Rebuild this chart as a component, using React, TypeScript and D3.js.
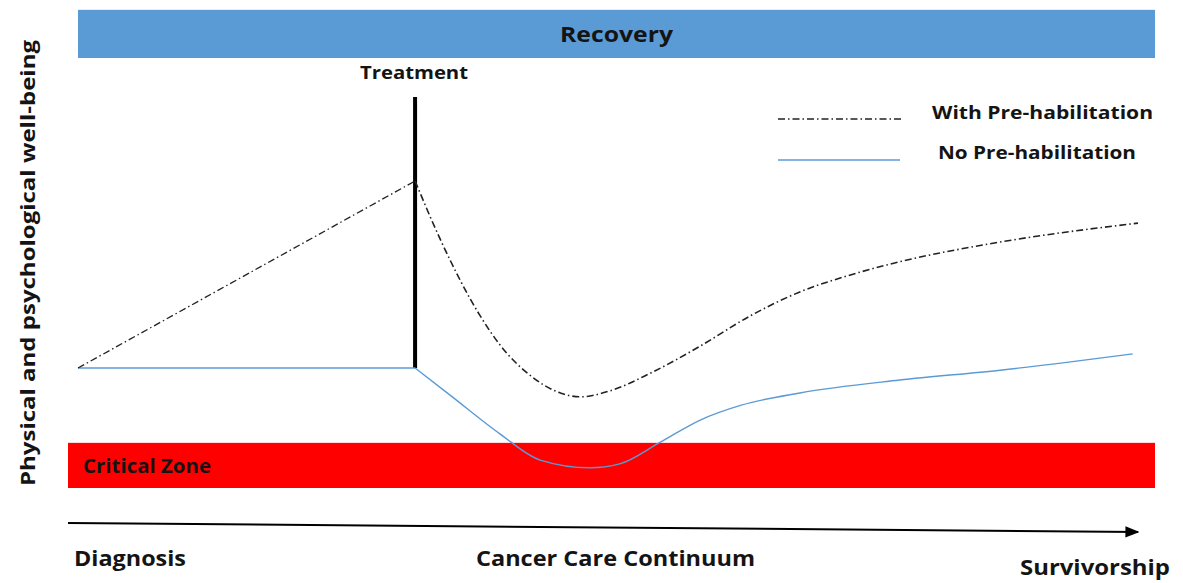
import React from 'react';
import * as d3 from 'd3';

// Conceptual chart: well-being along the cancer care continuum (0-100 on both axes)
const rampX = [0, 31.8];
const prehabRampY = [27.9, 71.4];
const noPrehabRampY = [27.9, 27.9];

const prehabX = [31.8, 34.2, 37.9, 39.8, 42.6, 45.5, 47.4, 50.2, 54, 58.7, 63.4, 68.1, 72.8, 77.5, 87, 100];
const prehabY = [71.4, 57.7, 40.2, 33.3, 26.3, 22.1, 21.2, 22.6, 26.7, 33.0, 40.0, 45.6, 49.5, 52.6, 57.2, 61.6];

const noPrehabX = [31.8, 35.1, 39.8, 43.6, 48.3, 51.1, 54.9, 58.7, 62.5, 68.1, 77.5, 87, 99.5];
const noPrehabY = [27.9, 21.6, 12.6, 6.5, 4.7, 5.6, 10.6, 15.8, 19.2, 22.1, 25.1, 27.4, 31.2];

const treatmentX = 31.8;
const criticalZone = [0, 10.5];
const recoveryBand = [100, 111.2];
const legendLabels = ['With Pre-habilitation', 'No Pre-habilitation'];
const stageLabels = ['Diagnosis', 'Cancer Care Continuum', 'Survivorship'];

const W = 1183;
const H = 583;
const font = '"Open Sans", Lato, sans-serif';
const blue = '#5b9bd5';
const ink = '#141414';
const dashDot = '7,3,1.5,3';

export default function App() {
  const x = d3.scaleLinear().domain([0, 100]).range([78, 1138]);
  const y = d3.scaleLinear().domain([0, 100]).range([488, 58]);

  const line = d3.line<[number, number]>().x(d => x(d[0])).y(d => y(d[1]));
  const curve = d3.line<[number, number]>().x(d => x(d[0])).y(d => y(d[1])).curve(d3.curveMonotoneX);

  const zip = (a: number[], b: number[]) => a.map((v, i) => [v, b[i]] as [number, number]);

  return (
    <div>
      <style>{`body{margin:0}`}</style>
      <svg width={W} height={H} style={{ display: 'block', background: '#fff', fontFamily: font }}>
        <defs>
          <marker id="arrow" viewBox="0 0 10 10" refX="9" refY="5" markerWidth="7" markerHeight="7" orient="auto">
            <path d="M0,1 L10,5 L0,9 z" fill="#000" />
          </marker>
        </defs>

        {/* recovery band */}
        <rect x={x(0)} y={y(recoveryBand[1])} width={1155 - x(0)} height={y(recoveryBand[0]) - y(recoveryBand[1])} fill={blue} />
        <text x={560} y={42} fontSize={21} fontWeight="bold" fill={ink}
          textLength={113} lengthAdjust="spacingAndGlyphs">Recovery</text>

        {/* critical zone */}
        <rect x={68} y={y(criticalZone[1])} width={1155 - 68} height={y(criticalZone[0]) - y(criticalZone[1])} fill="#ff0000" />
        <text x={83} y={473} fontSize={19} fontWeight="bold" fill={ink}
          textLength={128} lengthAdjust="spacingAndGlyphs">Critical Zone</text>

        {/* treatment marker */}
        <line x1={x(treatmentX)} x2={x(treatmentX)} y1={97} y2={y(27.9)} stroke="#000" strokeWidth={4} />
        <text x={360} y={79} fontSize={18} fontWeight="bold" fill={ink}
          textLength={108} lengthAdjust="spacingAndGlyphs">Treatment</text>

        {/* curves */}
        <path d={line(zip(rampX, noPrehabRampY)) || ''} fill="none" stroke={blue} strokeWidth={1.4} />
        <path d={curve(zip(noPrehabX, noPrehabY)) || ''} fill="none" stroke={blue} strokeWidth={1.4} />
        <path d={line(zip(rampX, prehabRampY)) || ''} fill="none" stroke="#222" strokeWidth={1.3} strokeDasharray={dashDot} />
        <path d={curve(zip(prehabX, prehabY)) || ''} fill="none" stroke="#222" strokeWidth={1.6} strokeDasharray={dashDot} />

        {/* legend */}
        <line x1={778} x2={903} y1={119} y2={119} stroke="#222" strokeWidth={1.3} strokeDasharray={dashDot} />
        <text x={932} y={119} fontSize={18} fontWeight="bold" fill={ink}
          textLength={221} lengthAdjust="spacingAndGlyphs">{legendLabels[0]}</text>
        <line x1={778} x2={900} y1={160} y2={160} stroke={blue} strokeWidth={1.4} />
        <text x={938} y={159} fontSize={18} fontWeight="bold" fill={ink}
          textLength={198} lengthAdjust="spacingAndGlyphs">{legendLabels[1]}</text>

        {/* continuum arrow */}
        <line x1={68} y1={523} x2={1138} y2={532} stroke="#000" strokeWidth={2} markerEnd="url(#arrow)" />
        <text x={74} y={566} fontSize={21} fontWeight="bold" fill={ink}
          textLength={112} lengthAdjust="spacingAndGlyphs">{stageLabels[0]}</text>
        <text x={476} y={566} fontSize={21} fontWeight="bold" fill={ink}
          textLength={279} lengthAdjust="spacingAndGlyphs">{stageLabels[1]}</text>
        <text x={1020} y={575} fontSize={21} fontWeight="bold" fill={ink}
          textLength={150} lengthAdjust="spacingAndGlyphs">{stageLabels[2]}</text>

        {/* y label */}
        <text transform={`translate(35,486) rotate(-90)`} fontSize={19} fontWeight="bold" fill={ink}
          textLength={446} lengthAdjust="spacingAndGlyphs">
          Physical and psychological well-being
        </text>
      </svg>
    </div>
  );
}
